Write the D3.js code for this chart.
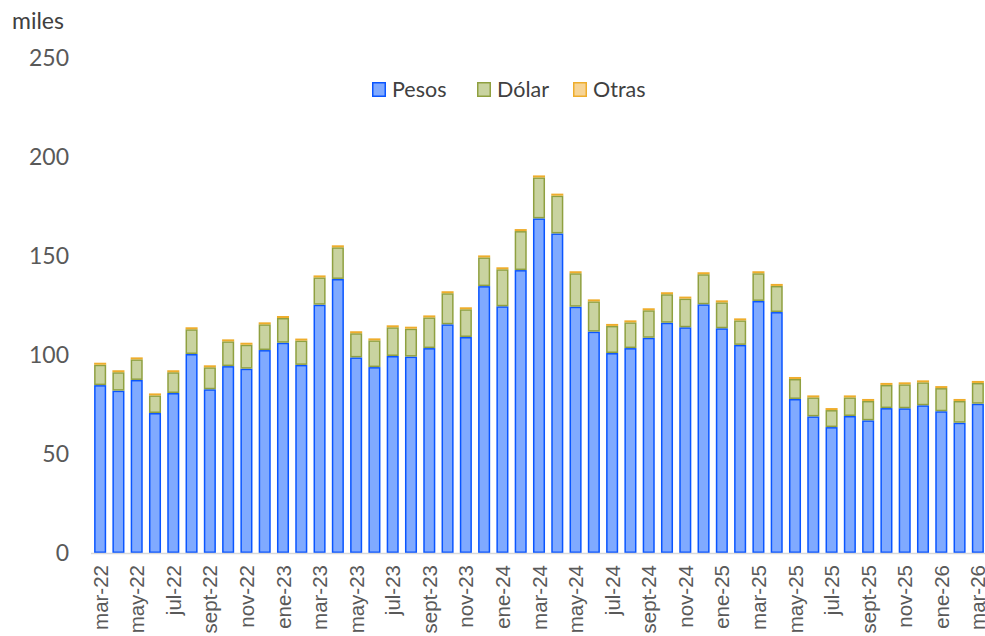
<!DOCTYPE html>
<html>
<head>
<meta charset="utf-8">
<script src="https://cdn.jsdelivr.net/npm/d3@7"></script>
<style>
  html, body { margin: 0; padding: 0; background: #fff; }
  svg { display: block; }
</style>
</head>
<body>
<div id="chart"></div>
<script>
// meses: mar-22 … mar-26
const months = [
  'mar-22','abr-22','may-22','jun-22','jul-22','ago-22','sept-22','oct-22','nov-22','dic-22',
  'ene-23','feb-23','mar-23','abr-23','may-23','jun-23','jul-23','ago-23','sept-23','oct-23','nov-23','dic-23',
  'ene-24','feb-24','mar-24','abr-24','may-24','jun-24','jul-24','ago-24','sept-24','oct-24','nov-24','dic-24',
  'ene-25','feb-25','mar-25','abr-25','may-25','jun-25','jul-25','ago-25','sept-25','oct-25','nov-25','dic-25',
  'ene-26','feb-26','mar-26'
];

// miles
const pesos = [
  84.8, 82.0, 87.4, 70.7, 80.8, 100.5, 82.7, 94.4, 93.1, 102.5,
  106.2, 95.0, 125.4, 138.4, 98.8, 93.9, 99.5, 99.2, 103.5, 115.5, 109.1, 134.8,
  124.6, 142.9, 169.0, 161.4, 124.4, 111.8, 101.0, 103.5, 108.7, 116.3, 114.0, 125.6,
  113.5, 105.1, 127.3, 121.7, 77.8, 69.0, 63.6, 69.2, 67.0, 73.2, 73.1, 74.6,
  71.6, 65.8, 75.4
];
const dolar = [
  10.3, 9.3, 10.4, 8.9, 10.5, 12.5, 11.1, 12.5, 12.1, 13.0,
  12.5, 12.3, 13.8, 16.0, 12.2, 13.5, 14.5, 14.1, 15.5, 15.7, 14.0, 14.5,
  18.7, 19.7, 20.7, 19.1, 16.9, 15.3, 13.7, 13.0, 13.9, 14.4, 14.5, 15.2,
  13.1, 12.4, 14.0, 13.2, 10.1, 9.6, 8.6, 9.4, 9.8, 11.7, 12.1, 11.6,
  11.7, 11.0, 10.5
];
const otras = [
  1.0, 1.0, 1.0, 1.0, 1.0, 1.0, 1.0, 1.0, 1.0, 1.0,
  1.0, 1.0, 1.0, 1.0, 1.0, 1.0, 1.0, 1.0, 1.0, 1.0, 1.0, 1.0,
  1.0, 1.0, 1.0, 1.0, 1.0, 1.0, 1.0, 1.0, 1.0, 1.0, 1.0, 1.0,
  1.0, 1.0, 1.0, 1.0, 1.0, 1.0, 1.0, 1.0, 1.0, 1.0, 1.0, 1.0,
  1.0, 1.0, 1.0
];
const seriesNames = ['Pesos', 'Dólar', 'Otras'];
const yTicks = [0, 50, 100, 150, 200, 250];

const W = 985, H = 636;
const margin = { left: 91, right: -2, top: 58, bottom: 83 };

const fills = { 'Pesos': '#80AAFF', 'Dólar': '#C9D3A0', 'Otras': '#F7D495' };
const strokes = { 'Pesos': '#0A55FF', 'Dólar': '#8FA040', 'Otras': '#EEAD2C' };

const rows = months.map((m, i) => ({ month: m, 'Pesos': pesos[i], 'Dólar': dolar[i], 'Otras': otras[i] }));
const stacked = d3.stack().keys(seriesNames)(rows);

const svg = d3.select('#chart').append('svg')
  .attr('width', W)
  .attr('height', H);

const x = d3.scaleBand()
  .domain(months)
  .range([margin.left, W - margin.right])
  .paddingInner(0.34)
  .paddingOuter(0.17);

const y = d3.scaleLinear()
  .domain([0, 250])
  .range([H - margin.bottom, margin.top]);

// eje y (solo etiquetas)
svg.append('g')
  .selectAll('text')
  .data(yTicks)
  .join('text')
  .attr('x', 69)
  .attr('y', d => y(d))
  .attr('dy', '0.36em')
  .attr('text-anchor', 'end')
  .attr('font-family', 'Lato, "Open Sans", sans-serif')
  .attr('font-size', 23)
  .attr('fill', '#595959')
  .text(d => d);

svg.append('text')
  .attr('x', 12)
  .attr('y', 29)
  .attr('font-family', 'Lato, "Open Sans", sans-serif')
  .attr('font-size', 23)
  .attr('fill', '#404040')
  .text('miles');

// barras apiladas
const layer = svg.append('g')
  .selectAll('g')
  .data(stacked)
  .join('g')
  .attr('fill', d => fills[d.key])
  .attr('stroke', d => strokes[d.key])
  .attr('stroke-width', 1.5);

layer.selectAll('rect')
  .data(d => d)
  .join('rect')
  .attr('x', d => x(d.data.month) + 0.75)
  .attr('width', x.bandwidth() - 1.5)
  .attr('y', d => y(d[1]) + 0.75)
  .attr('height', d => Math.max(0.5, y(d[0]) - y(d[1]) - 1.5));

// línea base
svg.append('line')
  .attr('x1', margin.left)
  .attr('x2', W)
  .attr('y1', y(0) + 0.5)
  .attr('y2', y(0) + 0.5)
  .attr('stroke', '#D9D9D9')
  .attr('stroke-width', 1.5);

// etiquetas eje x (cada dos meses)
svg.append('g')
  .selectAll('text')
  .data(months.filter((m, i) => i % 2 === 0))
  .join('text')
  .attr('transform', d => `translate(${x(d) + x.bandwidth() / 2 + 7.5},${y(0) + 12}) rotate(-90)`)
  .attr('text-anchor', 'end')
  .attr('font-family', '"Liberation Sans", Arial, sans-serif')
  .attr('font-size', 20.5)
  .attr('fill', '#595959')
  .text(d => d);

// leyenda
const legendX = [372, 477, 573];
const legend = svg.append('g')
  .selectAll('g')
  .data(seriesNames)
  .join('g')
  .attr('transform', (d, i) => `translate(${legendX[i]},82)`);

legend.append('rect')
  .attr('x', 0.75)
  .attr('y', 0.75)
  .attr('width', 12.5)
  .attr('height', 13.5)
  .attr('fill', d => fills[d])
  .attr('stroke', d => strokes[d])
  .attr('stroke-width', 1.5);

legend.append('text')
  .attr('x', 20)
  .attr('y', 7.5)
  .attr('dy', '0.36em')
  .attr('font-family', 'Lato, "Open Sans", sans-serif')
  .attr('font-size', 21.5)
  .attr('fill', '#404040')
  .text(d => d);
</script>
</body>
</html>
